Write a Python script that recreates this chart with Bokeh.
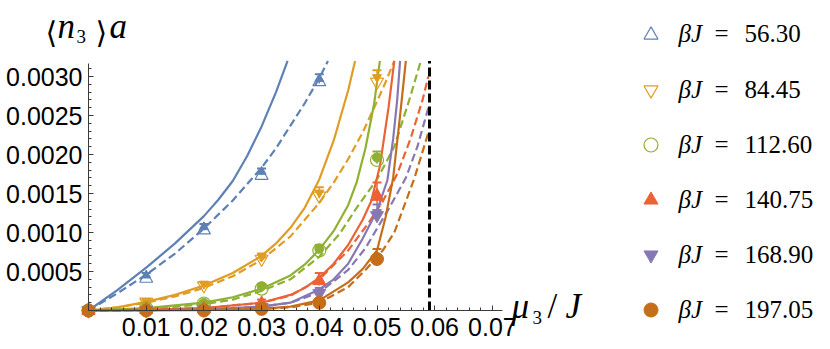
from bokeh.plotting import figure
from bokeh.models import FixedTicker, PrintfTickFormatter, Label, Legend, LegendItem, Range1d
from bokeh.embed import file_html
from bokeh.resources import INLINE

# ---------------- data ----------------
beta_labels = ["56.30", "84.45", "112.60", "140.75", "168.90", "197.05"]
colors = ["#5E81B5", "#E19C24", "#8FB032", "#EB6235", "#8778B3", "#C56E1A"]
marker_types = ["triangle", "inverted_triangle", "circle", "triangle", "inverted_triangle", "circle"]
hollow = [True, True, True, False, False, False]

x_ticks = [0.01, 0.02, 0.03, 0.04, 0.05, 0.06, 0.07]
y_ticks = [0.0005, 0.0010, 0.0015, 0.0020, 0.0025, 0.0030]
mu_critical = 0.0591

# simulation points: open marker value (a), filled marker value (b), error (err)
pts_mu_56 = [0.0, 0.01, 0.02, 0.03, 0.04]
pts_a_56 = [0.0, 0.00041, 0.00103, 0.00173, 0.00293]
pts_b_56 = [0.0, 0.00045, 0.00107, 0.00178, 0.00297]
err_56 = [0.00001, 0.00003, 0.00004, 0.00004, 0.00006]

pts_mu = [0.0, 0.01, 0.02, 0.03, 0.04, 0.05]
pts_a_84 = [0.0, 0.00011, 0.00032, 0.00066, 0.00147, 0.00293]
pts_b_84 = [0.0, 0.00012, 0.00034, 0.00069, 0.00151, 0.00299]
err_84 = [0.00001, 0.00002, 0.00003, 0.00004, 0.00007, 0.00009]
pts_a_112 = [0.0, 0.00003, 0.00009, 0.00028, 0.00077, 0.00193]
pts_b_112 = [0.0, 0.00004, 0.00010, 0.00031, 0.00079, 0.00196]
err_112 = [0.00001, 0.00002, 0.00002, 0.00003, 0.00005, 0.00008]
pts_a_140 = [0.0, 0.00001, 0.00002, 0.00009, 0.00038, 0.00146]
pts_b_140 = [0.0, 0.00001, 0.00003, 0.00010, 0.00040, 0.00150]
err_140 = [0.00001, 0.00001, 0.00002, 0.00004, 0.00008, 0.00014]
pts_a_168 = [0.0, 0.0, 0.00001, 0.00004, 0.00022, 0.00122]
pts_b_168 = [0.0, 0.0, 0.00001, 0.00005, 0.00024, 0.00126]
err_168 = [0.00001, 0.00001, 0.00001, 0.00002, 0.00005, 0.00010]
pts_a_197 = [0.0, 0.0, 0.0, 0.00002, 0.00010, 0.00066]
pts_b_197 = [0.0, 0.0, 0.0, 0.00002, 0.00011, 0.00068]
err_197 = [0.00001, 0.00001, 0.00001, 0.00002, 0.00004, 0.00011]

# theory curves (solid) and second approximation (dashed)
sol_mu_56 = [0.0, 0.005, 0.01, 0.015, 0.02, 0.0225, 0.025, 0.0275, 0.03, 0.0325, 0.0345]
sol_n_56 = [0.0, 0.00026, 0.00055, 0.00086, 0.00121, 0.00142, 0.00166, 0.00198, 0.00236, 0.0028, 0.0032]
dsh_mu_56 = [0.0, 0.005, 0.01, 0.015, 0.02, 0.025, 0.03, 0.0325, 0.035, 0.0375, 0.04, 0.0415]
dsh_n_56 = [0.0, 0.00022, 0.00046, 0.00073, 0.00105, 0.00141, 0.00183, 0.00208, 0.00237, 0.00266, 0.00298, 0.0032]

sol_mu_84 = [0.0, 0.005, 0.01, 0.015, 0.02, 0.025, 0.03, 0.0325, 0.035, 0.0375, 0.04, 0.0425, 0.045, 0.0462]
sol_n_84 = [0.0, 0.00004, 0.00011, 0.0002, 0.00032, 0.00048, 0.0007, 0.00086, 0.00106, 0.00132, 0.00168, 0.00218, 0.00282, 0.0032]
dsh_mu_84 = [0.0, 0.005, 0.01, 0.015, 0.02, 0.025, 0.03, 0.035, 0.04, 0.0425, 0.045, 0.0475, 0.05, 0.0515, 0.053]
dsh_n_84 = [0.0, 0.00004, 0.0001, 0.00018, 0.00029, 0.00044, 0.00065, 0.00095, 0.00138, 0.00164, 0.00194, 0.00228, 0.00268, 0.00293, 0.0032]

sol_mu_112 = [0.0, 0.01, 0.02, 0.025, 0.03, 0.035, 0.0375, 0.04, 0.0425, 0.045, 0.0465, 0.048, 0.0495, 0.0505]
sol_n_112 = [0.0, 0.00003, 0.0001, 0.00017, 0.00028, 0.00045, 0.00059, 0.00078, 0.00102, 0.00135, 0.00165, 0.00208, 0.00265, 0.0032]
dsh_mu_112 = [0.0, 0.01, 0.02, 0.025, 0.03, 0.035, 0.04, 0.0435, 0.0465, 0.05, 0.053, 0.0556, 0.0576]
dsh_n_112 = [0.0, 0.00002, 0.00008, 0.00014, 0.00025, 0.0004, 0.00069, 0.00098, 0.00132, 0.00168, 0.0021, 0.0027, 0.0032]

sol_mu_140 = [0.0, 0.01, 0.02, 0.03, 0.035, 0.0375, 0.04, 0.0425, 0.045, 0.0475, 0.049, 0.0505, 0.052, 0.053]
sol_n_140 = [0.0, 0.00001, 0.00003, 0.0001, 0.0002, 0.00029, 0.00042, 0.0006, 0.00084, 0.00116, 0.0014, 0.00185, 0.0026, 0.0032]
dsh_mu_140 = [0.0, 0.01, 0.02, 0.03, 0.035, 0.04, 0.045, 0.0485, 0.051, 0.0535, 0.0558, 0.0579, 0.0589]
dsh_n_140 = [0.0, 0.00001, 0.00003, 0.0001, 0.00019, 0.0004, 0.00077, 0.00112, 0.0014, 0.00175, 0.0022, 0.0027, 0.003]

sol_mu_168 = [0.0, 0.01, 0.02, 0.03, 0.035, 0.04, 0.0425, 0.045, 0.0475, 0.05, 0.0518, 0.0528, 0.0535, 0.054]
sol_n_168 = [0.0, 0.000003, 0.00001, 0.00005, 0.0001, 0.00027, 0.0004, 0.0006, 0.00092, 0.00128, 0.00167, 0.0022, 0.0027, 0.0032]
dsh_mu_168 = [0.0, 0.02, 0.03, 0.035, 0.04, 0.045, 0.048, 0.052, 0.055, 0.057, 0.0589]
dsh_n_168 = [0.0, 0.00001, 0.00005, 0.0001, 0.00023, 0.00052, 0.0008, 0.0013, 0.0017, 0.0021, 0.0026]

sol_mu_197 = [0.0, 0.02, 0.03, 0.035, 0.04, 0.045, 0.0475, 0.05, 0.0515, 0.0528, 0.054, 0.055]
sol_n_197 = [0.0, 0.000005, 0.00002, 0.00005, 0.00013, 0.00036, 0.00053, 0.00077, 0.0012, 0.0017, 0.0025, 0.0032]
dsh_mu_197 = [0.0, 0.03, 0.035, 0.04, 0.045, 0.048, 0.051, 0.053, 0.055, 0.0565, 0.0589]
dsh_n_197 = [0.0, 0.00002, 0.00004, 0.0001, 0.0003, 0.00052, 0.00077, 0.001, 0.0014, 0.0017, 0.00228]

points = [
    (pts_mu_56, pts_a_56, pts_b_56, err_56),
    (pts_mu, pts_a_84, pts_b_84, err_84),
    (pts_mu, pts_a_112, pts_b_112, err_112),
    (pts_mu, pts_a_140, pts_b_140, err_140),
    (pts_mu, pts_a_168, pts_b_168, err_168),
    (pts_mu, pts_a_197, pts_b_197, err_197),
]
solid = [(sol_mu_56, sol_n_56), (sol_mu_84, sol_n_84), (sol_mu_112, sol_n_112),
         (sol_mu_140, sol_n_140), (sol_mu_168, sol_n_168), (sol_mu_197, sol_n_197)]
dashed = [(dsh_mu_56, dsh_n_56), (dsh_mu_84, dsh_n_84), (dsh_mu_112, dsh_n_112),
          (dsh_mu_140, dsh_n_140), (dsh_mu_168, dsh_n_168), (dsh_mu_197, dsh_n_197)]

# ---------------- layout ----------------
W, H = 830, 349
OX, OY = 88, 310          # canvas position of the origin (px)
XS, YS = 5770.0, 78000.0  # px per data unit
x_axis_end, y_axis_end = 0.0717, 0.00317


def dx(px):
    return (px - OX) / XS


def dy(py):
    return (OY - py) / YS


p = figure(width=W, height=H, output_backend="svg", toolbar_location=None, title=None,
           x_range=Range1d(dx(0), dx(W)), y_range=Range1d(dy(H), dy(0)),
           min_border_left=0, min_border_right=0, min_border_top=0, min_border_bottom=0)
p.outline_line_color = None
p.xgrid.visible = False
p.ygrid.visible = False
p.background_fill_color = "white"

axis_col = "#3a3a3a"
xa = p.xaxis[0]
xa.ticker = FixedTicker(ticks=x_ticks, minor_ticks=[i * 0.002 for i in range(36)])
xa.formatter = PrintfTickFormatter(format="%.2f")
ya = p.yaxis[0]
ya.ticker = FixedTicker(ticks=y_ticks, minor_ticks=[i * 0.0001 for i in range(32)])
ya.formatter = PrintfTickFormatter(format="%.4f")
xa.bounds = (0, x_axis_end)
ya.bounds = (0, y_axis_end)
xa.fixed_location = 0
ya.fixed_location = 0
for ax in (xa, ya):
    ax.axis_line_color = axis_col
    ax.axis_line_width = 1
    ax.major_tick_line_color = axis_col
    ax.minor_tick_line_color = axis_col
    ax.major_tick_in = 5
    ax.major_tick_out = 0
    ax.minor_tick_in = 3
    ax.minor_tick_out = 0
    ax.major_label_text_font = "Liberation Sans"
    ax.major_label_text_font_size = "25px"
    ax.major_label_text_color = "black"
xa.major_label_standoff = 7
ya.major_label_standoff = 6

# curves
for i in range(6):
    c = colors[i]
    p.line(solid[i][0], solid[i][1], line_color=c, line_width=2.2)
    p.line(dashed[i][0], dashed[i][1], line_color=c, line_width=2.2, line_dash="8 4")

p.line([mu_critical, mu_critical], [0, 0.0032], line_color="black", line_width=3, line_dash="9 4")

# points
legend_renderers = []
for i in range(6):
    c = colors[i]
    mu, a, b, e = points[i]
    lo = [v - d for v, d in zip(b, e)]
    hi = [v + d for v, d in zip(b, e)]
    p.segment(mu, lo, mu, hi, line_color=c, line_width=1.5)
    p.scatter(mu, hi, marker="dash", size=9, line_color=c, line_width=2)
    p.scatter(mu, b, marker=marker_types[i], size=9, fill_color=c, line_color=c)
    if hollow[i]:
        r = p.scatter(mu, a, marker=marker_types[i], size=13, fill_color=None,
                      line_color=c, line_width=1.2)
    else:
        r = p.scatter(mu, a, marker=marker_types[i], size=13, fill_color=c, line_color=c)
    legend_renderers.append(r)

# legend markers (frame = whole canvas, location measured from its bottom-left)
legend = Legend(items=[LegendItem(label=" ", renderers=[r]) for r in legend_renderers],
                location=(633, 22), orientation="vertical",
                glyph_width=35, glyph_height=35, label_height=35, label_width=1,
                label_standoff=0, spacing=20, padding=0, margin=0,
                background_fill_alpha=0, border_line_alpha=0,
                label_text_font_size="1px")
p.add_layout(legend)


def txt(s, px, py_mid, size, italic=False, font="Liberation Serif"):
    p.add_layout(Label(x=dx(px), y=dy(py_mid), text=s, text_font=font,
                       text_font_style="italic" if italic else "normal",
                       text_font_size=f"{size}px", text_baseline="middle",
                       text_align="left", text_color="black"))


pitch = 55.2
for i, lab in enumerate(beta_labels):
    mid = 33.3 + i * pitch
    txt("βJ", 678, mid, 25, italic=True)
    txt("=", 714, mid, 25)
    txt(lab, 744, mid, 25)

# axis titles, built from pieces: <n_3>a  and  mu_3/J
BIG, SUB = 35, 19
txt("⟨", 45, 31.5, 30, font="DejaVu Serif")
txt("n", 57, 38 - 0.3375 * BIG, BIG, italic=True)
txt("3", 76, 42 - 0.3375 * SUB, SUB)
txt("⟩", 95, 31.5, 30, font="DejaVu Serif")
txt("a", 109, 38 - 0.3375 * BIG, BIG, italic=True)

txt("μ", 511, 318 - 0.3375 * BIG, BIG, italic=True)
txt("3", 532, 323 - 0.3375 * SUB, SUB)
txt("/", 547, 318 - 0.3375 * BIG, BIG)
txt("J", 565, 318 - 0.3375 * BIG, BIG, italic=True)

open("out.html", "w").write(file_html(p, INLINE))
